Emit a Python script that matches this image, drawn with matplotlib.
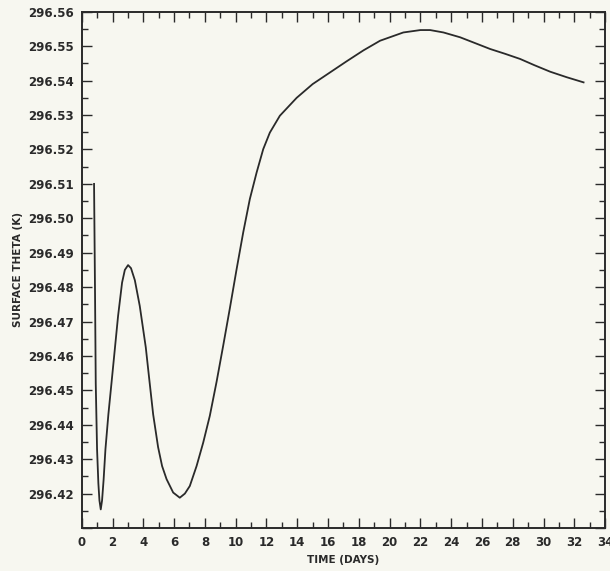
import matplotlib
matplotlib.use("Agg")
import matplotlib.pyplot as plt
from matplotlib.ticker import MultipleLocator, FuncFormatter

time_days = [0.80, 0.86, 0.91, 0.995, 1.08, 1.15, 1.235, 1.32, 1.42, 1.54,
             1.73, 1.93, 2.15, 2.36, 2.62, 2.80, 3.01, 3.20, 3.45, 3.77, 4.16,
             4.38, 4.64, 4.96, 5.22, 5.51, 5.94, 6.37, 6.70, 7.02, 7.46, 7.89,
             8.32, 8.76, 9.19, 9.62, 10.06, 10.49, 10.92, 11.36, 11.79, 12.22,
             12.87, 13.96, 15.00, 16.00, 17.20, 18.30, 19.38, 20.89, 22.00,
             22.63, 23.50, 24.58, 25.50, 26.53, 27.50, 28.48, 29.40, 30.43,
             31.50, 32.60]
surface_theta = [296.5100, 296.4800, 296.4520, 296.4329, 296.4230, 296.4180,
                 296.4154, 296.4180, 296.4240, 296.4329, 296.4430, 296.4520,
                 296.4620, 296.4716, 296.4813, 296.4850, 296.4864, 296.4855,
                 296.4820, 296.4745, 296.4625, 296.4535, 296.4430, 296.4335,
                 296.4280, 296.4242, 296.4203, 296.4188, 296.4200, 296.4222,
                 296.4280, 296.4348, 296.4426, 296.4525, 296.4630, 296.4738,
                 296.4852, 296.4959, 296.5056, 296.5133, 296.5201, 296.5249,
                 296.5298, 296.5350, 296.5390, 296.5420, 296.5456, 296.5488,
                 296.5516, 296.5540, 296.5547, 296.5547, 296.5540, 296.5526,
                 296.5510, 296.5492, 296.5478, 296.5463, 296.5445, 296.5426,
                 296.5410, 296.5395]

bg = "#f7f7f0"
ink = "#2a2a2a"

fig = plt.figure(figsize=(6.10, 5.71), dpi=100, facecolor=bg)
ax = fig.add_axes([0.134, 0.0753, 0.858, 0.904], facecolor=bg)

ax.plot(time_days, surface_theta, color=ink, lw=1.3, solid_joinstyle="round")

ax.set_xlim(0, 34)
ax.set_ylim(296.41, 296.56)
ax.xaxis.set_major_locator(MultipleLocator(2))
ax.xaxis.set_minor_locator(MultipleLocator(1))
ax.yaxis.set_major_locator(MultipleLocator(0.01))
ax.yaxis.set_minor_locator(MultipleLocator(0.005))


def ylab(v, pos):
    if v < 296.415:
        return ""
    return "%.2f" % v


ax.yaxis.set_major_formatter(FuncFormatter(ylab))

ax.tick_params(which="both", direction="in", top=True, right=True, color=ink,
               labelsize=8.5, labelcolor=ink)
ax.tick_params(which="major", length=7, width=1.0, pad=6)
ax.tick_params(which="minor", length=4, width=1.0)
for lab in ax.get_xticklabels() + ax.get_yticklabels():
    lab.set_fontweight("bold")
for s in ax.spines.values():
    s.set_color(ink)
    s.set_linewidth(1.4)

ax.set_xlabel("TIME (DAYS)", fontsize=7.5, fontweight="bold", color=ink, labelpad=4)
ax.set_ylabel("SURFACE THETA (K)", fontsize=7.5, fontweight="bold", color=ink, labelpad=3)

fig.savefig("out.png", dpi=100, facecolor=bg)
